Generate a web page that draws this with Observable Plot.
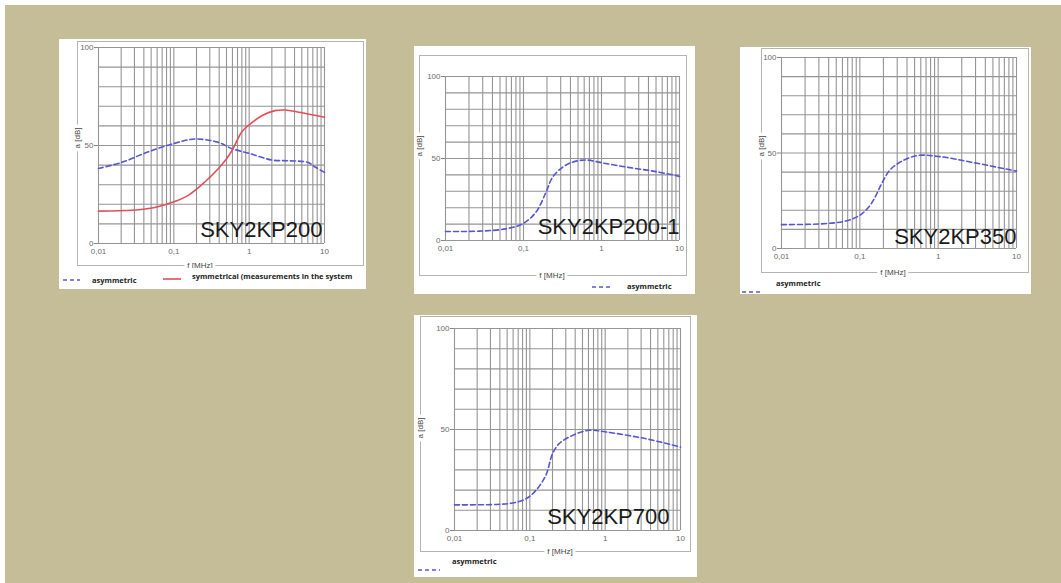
<!DOCTYPE html>
<html><head><meta charset="utf-8">
<script src="https://cdn.jsdelivr.net/npm/d3@7"></script>
<script src="https://cdn.jsdelivr.net/npm/@observablehq/plot@0.6"></script>
<style>
body{margin:0;background:#fff;}
#page{position:relative;width:1061px;height:583px;overflow:hidden;background:#fff;}
#bg{position:absolute;left:5px;top:5px;right:0;bottom:0;background:#c5bd98;}
.box{position:absolute;background:#fff;}
.frame{position:absolute;border:1px solid #b4b4b4;box-sizing:border-box;}
.lab{position:absolute;font:8px "Liberation Sans",Arial,sans-serif;color:#444;background:#fff;padding:0 3px;white-space:nowrap;transform:translate(-50%,-50%);line-height:9px;}
.lab.rot{transform:translate(-50%,-50%) rotate(-90deg);}
.leg{position:absolute;font:bold 7.5px "Open Sans",sans-serif;color:#222;white-space:nowrap;transform:translateY(-50%);line-height:9px;}
.cover{position:absolute;background:#fff;}
</style></head><body><div id="page"><div id="bg"></div></div>
<script>
// ---- grid & ticks ----
const gridFreqs = [0.01,0.02,0.03,0.04,0.05,0.06,0.07,0.08,0.09,0.1,0.2,0.3,0.4,0.5,0.6,0.7,0.8,0.9,1,2,3,4,5,6,7,8,9,10];
const gridDb = [0,10,20,30,40,50,60,70,80,90,100];
const freqTicks = [0.01,0.1,1,10];
const freqTickLabels = ["0,01","0,1","1","10"];
const dbTicks = [0,50,100];
const titles = ["SKY2KP200","SKY2KP200-1","SKY2KP350","SKY2KP700"];
const legendLabels = ["asymmetric","symmetrical (measurements in the system"];
const xLabel = "f [MHz]";
const yLabel = "a [dB]";

// ---- series ----
const kp200AsymFreq = [0.01,0.0204,0.046,0.1,0.19,0.39,0.58,1,1.2,2,3.3,6,7.5,10];
const kp200Asym     = [38.3,41.4,46.8,51,53.3,51.6,48.5,46,45,42.6,42.2,41.4,39,36.3];
const kp200SymFreq  = [0.01,0.028,0.056,0.096,0.157,0.26,0.43,0.58,0.8,1,1.47,2.2,3,4.6,10];
const kp200Sym      = [16.5,17,18.4,21,24.7,31.5,40,46.8,57,60.5,65.2,67.8,68.1,67,64.4];
const kp2001Freq = [0.01,0.027,0.059,0.097,0.144,0.194,0.235,0.316,0.42,0.63,1.03,2.2,5,10];
const kp2001Asym = [5.5,5.7,7.1,10.1,17.2,29.4,38.5,44.6,47.7,49.1,47.3,44.6,42,39.1];
const kp350Freq = [0.01,0.032,0.064,0.1,0.14,0.19,0.24,0.34,0.55,1,2.66,10];
const kp350Asym = [12.5,12.9,14.3,17.4,23.5,33.9,40.9,45.6,48.7,48.2,45.2,40.5];
const kp700Freq = [0.01,0.036,0.059,0.089,0.12,0.163,0.2,0.245,0.37,0.61,1.02,3.4,10];
const kp700Asym = [12.7,12.9,13.6,15.7,19.8,27.3,38,43,47.1,49.6,48.8,45.5,41.3];

const BLUE = "#5656d4", RED = "#e0505a";
const toRows = (fs, vs) => fs.map((f, i) => ({f, db: vs[i]}));

const panels = [
  {box:[59,39,307,250], m:[39,42,8,46], frame:[77,41,363,265], ylab:[77,138], xlab:[200,265], cover:[59,268,307,21],
   title:titles[0], tdx:-2, tdy:-7,
   series:[{rows:toRows(kp200AsymFreq,kp200Asym),stroke:BLUE,dash:true},{rows:toRows(kp200SymFreq,kp200Sym),stroke:RED,dash:false}],
   legend:[{x1:63,x2:80,y:280,tx:92,ty:280,dash:true,stroke:BLUE,text:legendLabels[0]},{x1:163,x2:181,y:279,tx:192,ty:276,dash:false,stroke:RED,text:legendLabels[1]}]},
  {box:[414,46,281,248], m:[31,16,30,54], frame:[419,55,686,275], ylab:[419,146], xlab:[552,275],
   title:titles[1], tdx:0, tdy:-7,
   series:[{rows:toRows(kp2001Freq,kp2001Asym),stroke:BLUE,dash:true}],
   legend:[{x1:592,x2:612,y:287,tx:627,ty:286,dash:true,stroke:BLUE,text:legendLabels[0]}]},
  {box:[740,47,291,247], m:[41,15,10,46], frame:[761,48,1028,272], ylab:[761,146], xlab:[893,272],
   title:titles[2], tdx:0, tdy:-5,
   series:[{rows:toRows(kp350Freq,kp350Asym),stroke:BLUE,dash:true}],
   legend:[{x1:742,x2:762,y:292,tx:776,ty:283,dash:true,stroke:BLUE,text:legendLabels[0]}]},
  {box:[414,315,283,262], m:[40,17,13,47], frame:[420,316,690,551], ylab:[420,428], xlab:[560,551],
   title:titles[3], tdx:-11, tdy:-7,
   series:[{rows:toRows(kp700Freq,kp700Asym),stroke:BLUE,dash:true}],
   legend:[{x1:418,x2:440,y:570,tx:452,ty:561,dash:true,stroke:BLUE,text:legendLabels[0]}]}
];

const page = document.getElementById("page");
function el(cls, css, text) {
  const d = document.createElement("div");
  d.className = cls;
  Object.assign(d.style, css);
  if (text != null) d.textContent = text;
  page.appendChild(d);
  return d;
}

const svgNS = "http://www.w3.org/2000/svg";
const overlay = document.createElementNS(svgNS, "svg");
overlay.setAttribute("width", 1061); overlay.setAttribute("height", 583);
overlay.style.position = "absolute"; overlay.style.left = "0"; overlay.style.top = "0";

for (const p of panels) {
  const [bx, by, bw, bh] = p.box;
  el("box", {left: bx+"px", top: by+"px", width: bw+"px", height: bh+"px"});
  const [fl, ft, fr, fb] = p.frame;
  el("frame", {left: fl+"px", top: ft+"px", width: (fr-fl+1)+"px", height: (fb-ft+1)+"px"});
  const [ml, mr, mt, mb] = p.m;
  const chart = Plot.plot({
    width: bw, height: bh, marginLeft: ml, marginRight: mr, marginTop: mt, marginBottom: mb,
    x: {type: "log", domain: [0.01, 10], label: null},
    y: {domain: [0, 100], label: null},
    style: {position: "absolute", left: bx+"px", top: by+"px", background: "transparent", overflow: "visible",
            fontFamily: "'Liberation Sans', Arial, sans-serif", fontSize: "8px"},
    marks: [
      Plot.ruleX(gridFreqs, {stroke: "#959595", strokeWidth: 1.1}),
      Plot.ruleY(gridDb, {stroke: "#959595", strokeWidth: 1.1}),
      Plot.axisX(freqTicks, {tickSize: 0, tickPadding: 5, fill: "#6a6a6a", label: null,
        tickFormat: d => freqTickLabels[freqTicks.indexOf(d)]}),
      Plot.axisY(dbTicks, {tickSize: 4, tickPadding: 1, fill: "#6a6a6a", stroke: "#888", label: null}),
      ...p.series.map(s => Plot.line(s.rows, {x: "f", y: "db", stroke: s.stroke, strokeWidth: 1.6,
        strokeDasharray: s.dash ? "5,3" : null, curve: "catmull-rom"})),
      Plot.text([p.title], {text: d => d, frameAnchor: "bottom-right", dx: p.tdx, dy: p.tdy,
        textAnchor: "end", lineAnchor: "bottom", fontSize: 22, fill: "#1a1a1a",
        fontFamily: "'Liberation Sans', Arial, sans-serif"})
    ]
  });
  page.appendChild(chart);
  el("lab rot", {left: p.ylab[0]+"px", top: p.ylab[1]+"px"}, yLabel);
  el("lab", {left: p.xlab[0]+"px", top: p.xlab[1]+"px"}, xLabel);
  if (p.cover) {
    const [cx, cy, cw, ch] = p.cover;
    el("cover", {left: cx+"px", top: cy+"px", width: cw+"px", height: ch+"px"});
  }
  for (const L of p.legend) {
    el("leg", {left: L.tx+"px", top: L.ty+"px"}, L.text);
    const ln = document.createElementNS(svgNS, "line");
    ln.setAttribute("x1", L.x1); ln.setAttribute("x2", L.x2);
    ln.setAttribute("y1", L.y); ln.setAttribute("y2", L.y);
    ln.setAttribute("stroke", L.stroke); ln.setAttribute("stroke-width", 1.6);
    if (L.dash) ln.setAttribute("stroke-dasharray", "4,3");
    overlay.appendChild(ln);
  }
}
page.appendChild(overlay);
</script>
</body></html>
